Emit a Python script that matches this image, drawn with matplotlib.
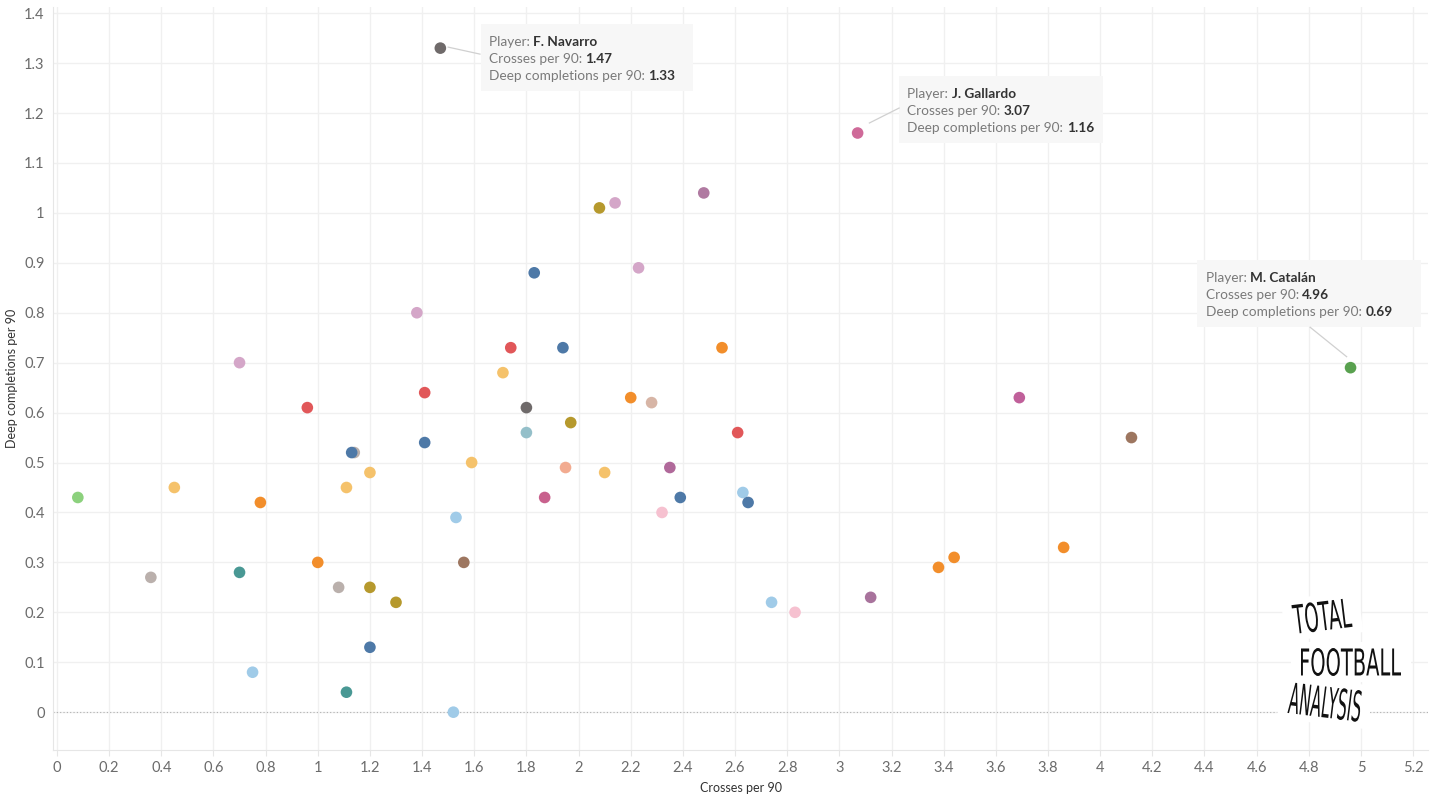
import numpy as np
import matplotlib
matplotlib.use("Agg")
import matplotlib.pyplot as plt
from matplotlib.ticker import MultipleLocator, FuncFormatter
from matplotlib.textpath import TextPath
from matplotlib.patches import PathPatch, Rectangle
from matplotlib.font_manager import FontProperties
from matplotlib.transforms import Affine2D

# dane: crosses per 90 vs deep completions per 90
crosses = [1.47, 3.07, 4.96, 2.08, 2.14, 2.48, 1.83, 2.23, 1.38, 0.70,
           1.74, 1.94, 2.55, 1.71, 1.41, 0.96, 1.80, 2.20, 2.28, 1.97,
           2.61, 1.80, 3.69, 4.12, 1.14, 1.13, 1.41, 1.59, 1.20, 1.95,
           2.10, 2.35, 0.08, 0.45, 1.11, 0.78, 1.87, 2.39, 2.63, 2.65,
           2.32, 1.53, 0.36, 0.70, 1.00, 1.56, 1.08, 1.20, 1.30, 1.20,
           0.75, 1.11, 1.52, 2.74, 2.83, 3.12, 3.38, 3.44, 3.86]
deep = [1.33, 1.16, 0.69, 1.01, 1.02, 1.04, 0.88, 0.89, 0.80, 0.70,
        0.73, 0.73, 0.73, 0.68, 0.64, 0.61, 0.61, 0.63, 0.62, 0.58,
        0.56, 0.56, 0.63, 0.55, 0.52, 0.52, 0.54, 0.50, 0.48, 0.49,
        0.48, 0.49, 0.43, 0.45, 0.45, 0.42, 0.43, 0.43, 0.44, 0.42,
        0.40, 0.39, 0.27, 0.28, 0.30, 0.30, 0.25, 0.25, 0.22, 0.13,
        0.08, 0.04, 0.00, 0.22, 0.20, 0.23, 0.29, 0.31, 0.33]
colors = ['#6f6a6a', '#cf6a99', '#59a14f', '#b6992d', '#d4a6c8', '#b07aa1', '#4e79a7', '#d4a6c8', '#d4a6c8', '#d4a6c8',
          '#e15759', '#4e79a7', '#f28e2b', '#f5c26b', '#e15759', '#e15759', '#6f6a6a', '#f28e2b', '#d7b5a6', '#b6992d',
          '#e15759', '#94bfc9', '#c0609a', '#9d7660', '#bab0ac', '#4e79a7', '#4e79a7', '#f5c26b', '#f5c26b', '#f2ab90',
          '#f5c26b', '#b0699a', '#8cd17d', '#f5c26b', '#f5c26b', '#f28e2b', '#c8618d', '#4e79a7', '#a0cbe8', '#4e79a7',
          '#f6c1d0', '#a0cbe8', '#bab0ac', '#499894', '#f28e2b', '#9d7660', '#bab0ac', '#b6992d', '#b6992d', '#4e79a7',
          '#a0cbe8', '#499894', '#a0cbe8', '#a0cbe8', '#f6c1d0', '#a8739c', '#f28e2b', '#f28e2b', '#f28e2b']

# tooltipy: zawodnik, x, y, ramka (lewo, gora, prawo, dol)
tip_players = ['F. Navarro', 'J. Gallardo', 'M. Catalán']
tip_x = [1.47, 3.07, 4.96]
tip_y = [1.33, 1.16, 0.69]
tip_box = [(1.624, 1.378, 2.437, 1.244),
           (3.229, 1.274, 4.011, 1.140),
           (4.373, 0.905, 5.229, 0.771)]
tip_line_end = [(1.622, 1.318), (3.229, 1.210), (4.805, 0.771)]
tip_line_start = [(1.500, 1.332), (3.115, 1.180), (4.945, 0.712)]

plt.rcParams['font.family'] = ['Lato', 'DejaVu Sans']

dpi = 100
fig = plt.figure(figsize=(14.3, 7.98), dpi=dpi)
ax = fig.add_axes([0.0371, 0.060, 0.9615, 0.931])

ax.set_xlim(-0.015, 5.257)
ax.set_ylim(-0.076, 1.412)

ax.xaxis.set_major_locator(MultipleLocator(0.2))
ax.yaxis.set_major_locator(MultipleLocator(0.1))
fmt = FuncFormatter(lambda v, p: f"{round(v, 2):g}")
ax.xaxis.set_major_formatter(fmt)
ax.yaxis.set_major_formatter(fmt)
ax.grid(True, color='#f0f0f0', linewidth=1.0)
ax.set_axisbelow(True)
ax.axhline(0, color='#b0b0b0', linestyle=(0, (1, 2)), linewidth=0.8, zorder=1)

for s in ['top', 'right']:
    ax.spines[s].set_visible(False)
for s in ['left', 'bottom']:
    ax.spines[s].set_color('#e6e6e6')
ax.tick_params(axis='x', colors='#e6e6e6', labelcolor='#6b6b6b', labelsize=10.5, length=4, pad=4)
ax.tick_params(axis='y', length=0, labelcolor='#6b6b6b', labelsize=10.5, pad=6)

ax.set_xlabel('Crosses per 90', fontsize=9, color='#333333')
ax.set_ylabel('Deep completions per 90', fontsize=9, color='#333333')
ax.xaxis.set_label_coords(0.5, -0.051)
ax.yaxis.set_label_coords(-0.0298, 0.5)
ax.xaxis.label.set_va('center')
ax.yaxis.label.set_va('center')

ax.scatter(crosses, deep, s=70, c=colors, edgecolors='none', zorder=3)

# tooltipy
fig.canvas.draw()
renderer = fig.canvas.get_renderer()
for i, name in enumerate(tip_players):
    x0, y0, x1, y1 = tip_box[i]
    ax.add_patch(Rectangle((x0, y1), x1 - x0, y0 - y1, facecolor='#f7f7f7',
                           edgecolor='none', zorder=4))
    ax.plot([tip_line_start[i][0], tip_line_end[i][0]],
            [tip_line_start[i][1], tip_line_end[i][1]],
            color='#d0d0d0', linewidth=0.9, zorder=4)
    rows = [('Player: ', name),
            ('Crosses per 90: ', f"{tip_x[i]:.2f}"),
            ('Deep completions per 90: ', f"{tip_y[i]:.2f}")]
    for j, (lab, val) in enumerate(rows):
        t = ax.annotate(lab, xy=(x0, y0), xytext=(6, -15.5 - 12.2 * j),
                        textcoords='offset points', fontsize=9.8, color='#7a7a7a',
                        va='baseline', ha='left', zorder=5)
        w = t.get_window_extent(renderer).width * 72 / dpi
        ax.annotate(val, xy=(x0, y0), xytext=(6 + w, -15.5 - 12.2 * j),
                    textcoords='offset points', fontsize=9.8, color='#333333',
                    fontweight='bold', va='baseline', ha='left', zorder=5)

# logo (waski napis, skalowany w pikselach)
H = 798
logo_words = ['TOTAL', 'FOOTBALL', 'ANALYSIS']
logo_cx = [1322, 1351, 1325]
logo_cy = [616, 662, 702]
logo_w = [58, 100, 72]
logo_h = [30, 28, 32]
logo_rot = [7, 0, -7]
prop = FontProperties(family='DejaVu Sans')
for k, word in enumerate(logo_words):
    cx, cy = logo_cx[k], H - logo_cy[k]
    box = Rectangle((cx - logo_w[k] / 2 - 10, cy - logo_h[k] / 2 - 6), logo_w[k] + 20, logo_h[k] + 12,
                    transform=Affine2D().rotate_deg_around(cx, cy, logo_rot[k]),
                    facecolor='white', edgecolor='none', zorder=10)
    fig.add_artist(box)
    tp = TextPath((0, 0), word, size=40, prop=prop)
    bb = tp.get_extents()
    tr = (Affine2D().translate(-bb.x0 - bb.width / 2, -bb.y0 - bb.height / 2)
          .scale(logo_w[k] / bb.width, logo_h[k] / bb.height)
          .rotate_deg(logo_rot[k]).translate(cx, cy))
    fig.add_artist(PathPatch(tp, transform=tr, facecolor='#111111', edgecolor='none', zorder=11))

fig.savefig('out.png', dpi=dpi)
